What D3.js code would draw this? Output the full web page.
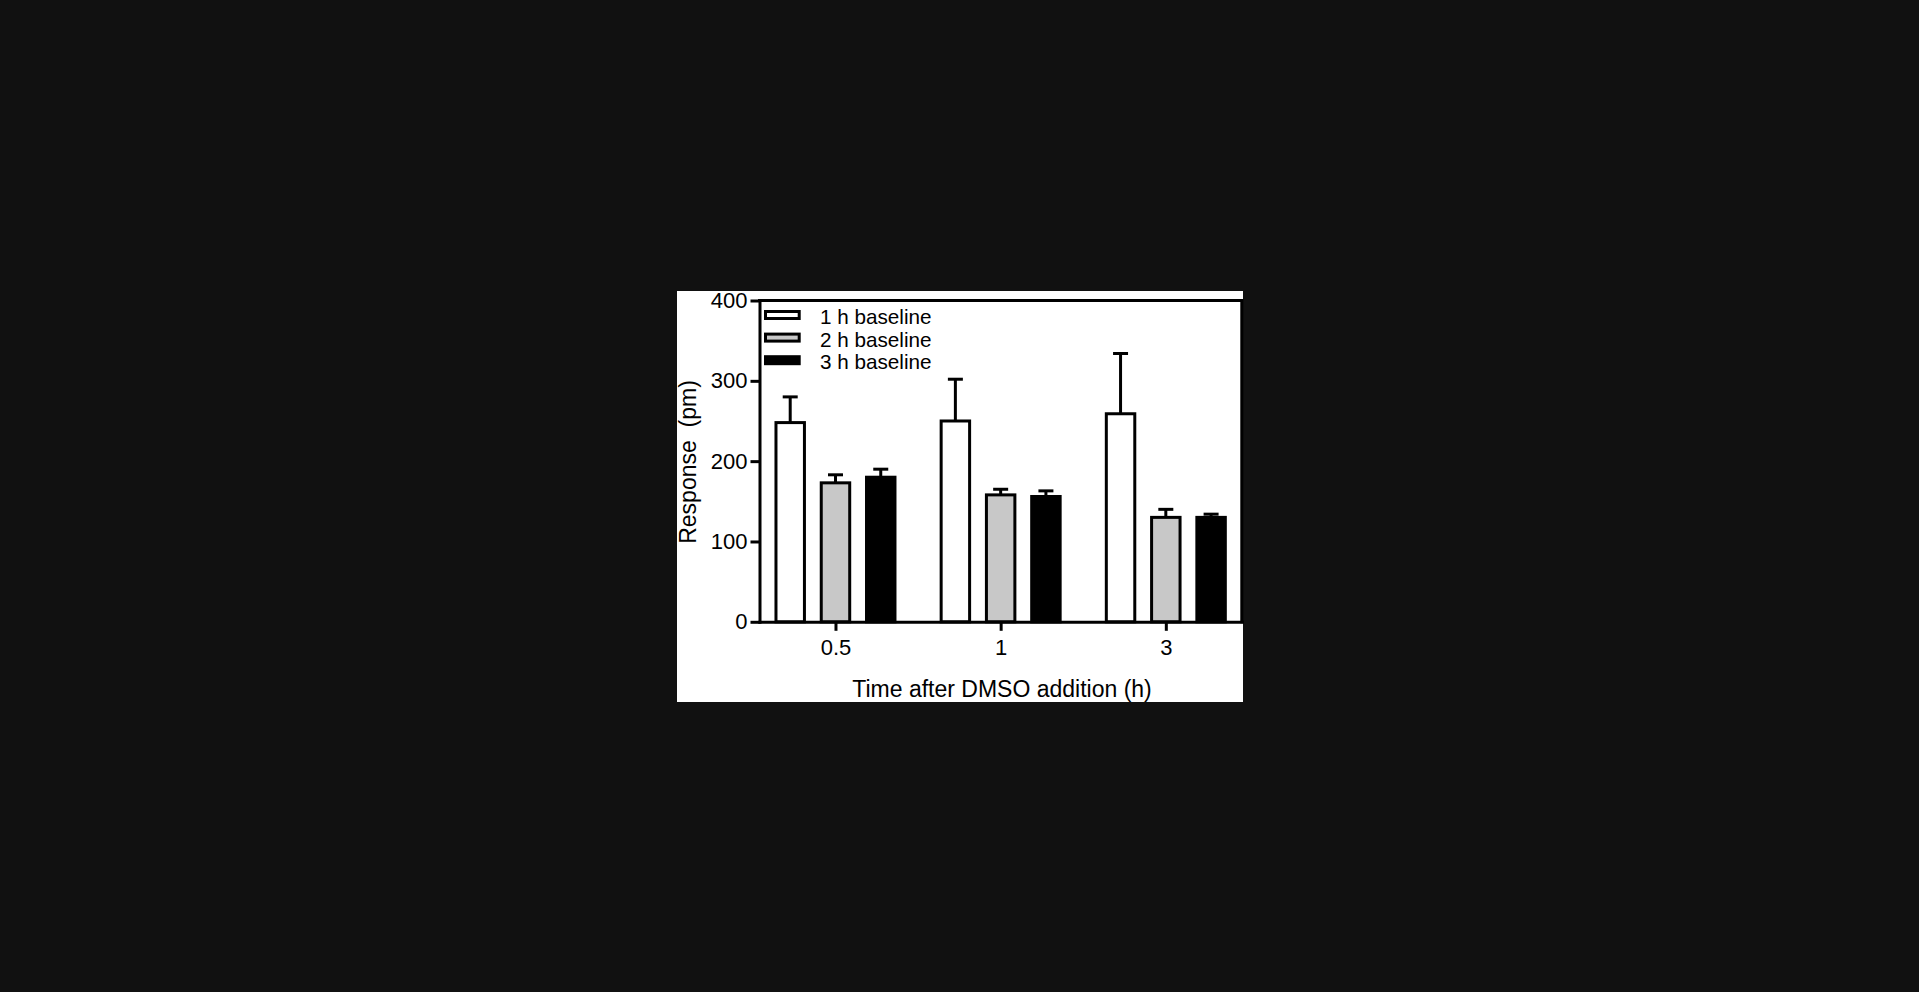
<!DOCTYPE html>
<html>
<head>
<meta charset="utf-8">
<script src="https://cdn.jsdelivr.net/npm/d3@7"></script>
<style>
  html, body { margin: 0; padding: 0; background: #111111; overflow: hidden; }
  text { font-family: "Liberation Sans", Arial, sans-serif; fill: #000; }
</style>
</head>
<body>
<svg id="chart" width="1919" height="992"></svg>
<script>
// values (pm), mean and one-sided SEM
const categories = ['0.5', '1', '3'];
const seriesNames = ['1 h baseline', '2 h baseline', '3 h baseline'];
const means1h = [248, 250, 259];
const means2h = [173, 158, 130];
const means3h = [180, 156, 130];
const sem1h = [32, 52, 75];
const sem2h = [10, 7, 10];
const sem3h = [10, 7, 4];
const yTicks = [0, 100, 200, 300, 400];
const fills = ['#ffffff', '#c8c8c8', '#000000'];

const means = [means1h, means2h, means3h];
const sems = [sem1h, sem2h, sem3h];

const svg = d3.select('#chart');

// white figure panel
svg.append('rect')
  .attr('x', 677).attr('y', 291)
  .attr('width', 566).attr('height', 411)
  .attr('fill', '#fff');

const plot = { left: 759.5, right: 1241.8, top: 300.5, bottom: 621.8 };

const y = d3.scaleLinear().domain([0, 400]).range([plot.bottom, plot.top]);
const x0 = d3.scalePoint().domain(categories).range([plot.left, plot.right]).padding(0.46);
const x1 = d3.scaleBand().domain(d3.range(3)).range([-61, 61]).paddingInner(0.305);

const sw = 3;

// bars
const bars = [];
categories.forEach((c, ci) => {
  d3.range(3).forEach(si => {
    bars.push({ cat: c, s: si, mean: means[si][ci], sem: sems[si][ci] });
  });
});

const g = svg.append('g');

g.selectAll('rect.bar')
  .data(bars)
  .join('rect')
  .attr('class', 'bar')
  .attr('x', d => x0(d.cat) + x1(d.s) + sw / 2)
  .attr('width', x1.bandwidth() - sw)
  .attr('y', d => y(d.mean))
  .attr('height', d => y(0) - y(d.mean))
  .attr('fill', d => fills[d.s])
  .attr('stroke', '#000')
  .attr('stroke-width', sw);

// error bars (upper only)
const eb = g.selectAll('g.err').data(bars).join('g').attr('class', 'err')
  .attr('stroke', '#000').attr('stroke-width', sw);
eb.append('line')
  .attr('x1', d => x0(d.cat) + x1(d.s) + x1.bandwidth() / 2)
  .attr('x2', d => x0(d.cat) + x1(d.s) + x1.bandwidth() / 2)
  .attr('y1', d => y(d.mean))
  .attr('y2', d => y(d.mean + d.sem));
eb.append('line')
  .attr('x1', d => x0(d.cat) + x1(d.s) + x1.bandwidth() / 2 - 7.5)
  .attr('x2', d => x0(d.cat) + x1(d.s) + x1.bandwidth() / 2 + 7.5)
  .attr('y1', d => y(d.mean + d.sem))
  .attr('y2', d => y(d.mean + d.sem));

// frame (top + right)
svg.append('path')
  .attr('d', `M${plot.left},${plot.top}H${plot.right}V${plot.bottom}`)
  .attr('fill', 'none')
  .attr('stroke', '#000')
  .attr('stroke-width', sw)
  .attr('stroke-linecap', 'square');

// axes
const yAxis = svg.append('g')
  .attr('transform', `translate(${plot.left},0)`)
  .call(d3.axisLeft(y).tickValues(yTicks).tickSize(9).tickSizeOuter(0).tickPadding(3));
const xAxis = svg.append('g')
  .attr('transform', `translate(0,${plot.bottom})`)
  .call(d3.axisBottom(x0).tickSize(9).tickSizeOuter(0).tickPadding(9));

[yAxis, xAxis].forEach(a => {
  a.select('.domain').attr('stroke-width', sw).attr('stroke-linecap', 'square');
  a.selectAll('.tick line').attr('stroke-width', sw);
  a.selectAll('.tick text')
    .style('font-family', '"Liberation Sans", Arial, sans-serif')
    .style('font-size', '22px')
    .attr('fill', '#000');
});

// legend
const legend = svg.append('g').attr('transform', 'translate(765.5,311.5)');
seriesNames.forEach((name, i) => {
  legend.append('rect')
    .attr('x', 0).attr('y', i * 22.6)
    .attr('width', 33.7).attr('height', 7)
    .attr('fill', fills[i])
    .attr('stroke', '#000')
    .attr('stroke-width', sw);
  legend.append('text')
    .attr('x', 54.5).attr('y', 12.5 + i * 22.6)
    .style('font-size', '20.7px')
    .text(name);
});

// axis titles
svg.append('text')
  .attr('transform', 'translate(696,462) rotate(-90)')
  .attr('text-anchor', 'middle')
  .style('font-size', '23px')
  .style('white-space', 'pre')
  .text('Response  (pm)');

svg.append('text')
  .attr('x', 1002).attr('y', 696.5)
  .attr('text-anchor', 'middle')
  .style('font-size', '23px')
  .text('Time after DMSO addition (h)');
</script>
</body>
</html>
